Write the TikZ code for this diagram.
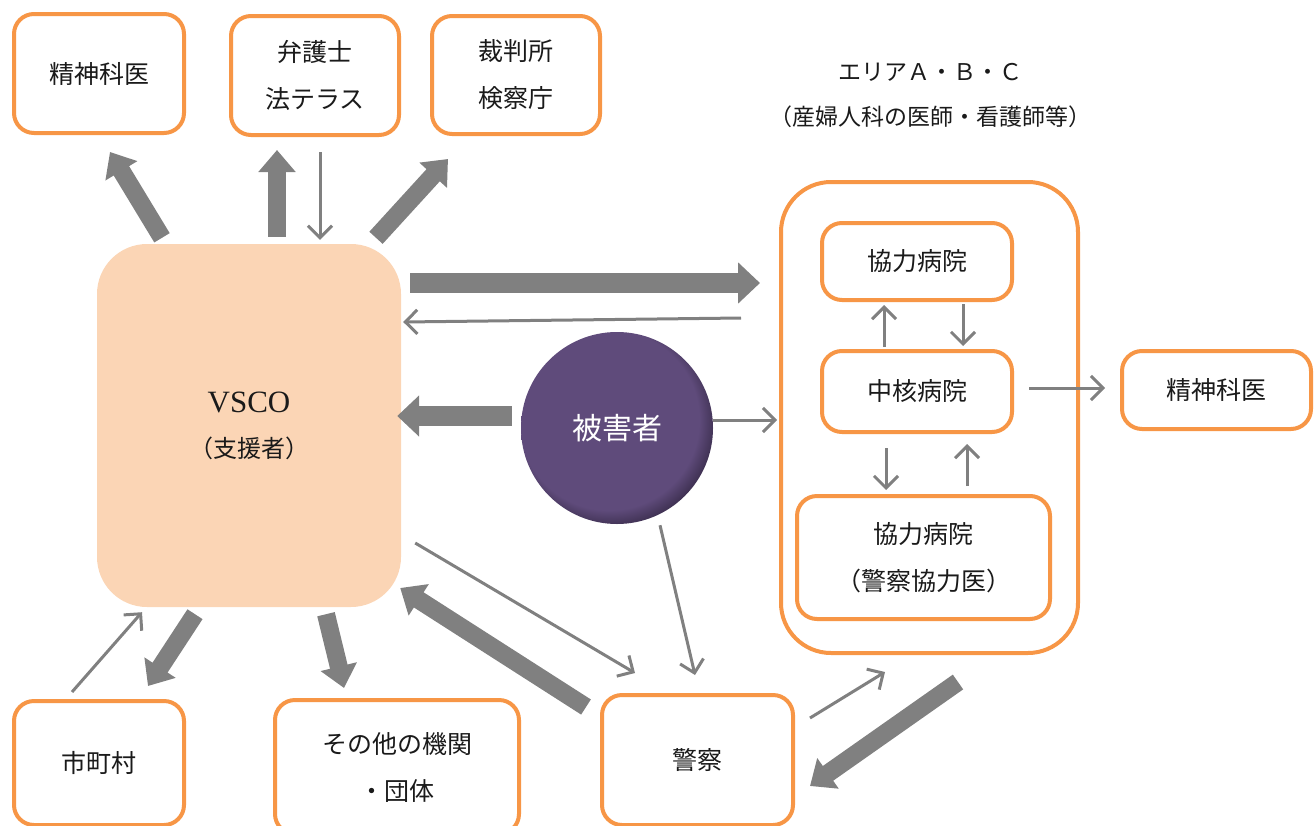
\documentclass[tikz,border=0pt]{standalone}
\usepackage{fontspec}
\newfontfamily\jp{Noto Sans CJK JP}
\newfontfamily\lserif{Liberation Serif}
\usetikzlibrary{arrows.meta}
\definecolor{borange}{HTML}{F79646}
\definecolor{peach}{HTML}{FBD5B5}
\definecolor{agray}{HTML}{808080}
\definecolor{vpurple}{HTML}{5F4B7B}
\definecolor{vdark}{HTML}{2A2038}
\definecolor{txt}{HTML}{1A1A1A}
\pgfdeclareradialshading{victimshade}{\pgfpoint{-4bp}{4bp}}{color(0bp)=(vpurple); color(23.5bp)=(vpurple); color(30bp)=(vdark); color(50bp)=(vdark)}
\tikzset{
  orgbox/.style={draw=borange, line width=4pt, rounded corners=20pt, fill=white,
    align=center, inner sep=0pt, text=txt, font=\jp\fontsize{25}{47}\selectfont},
  bigarrow/.style={draw=agray, line width=18pt, -{Triangle[width=36pt,length=22pt]}},
  hugearrow/.style={draw=agray, line width=20pt, -{Triangle[width=40pt,length=22pt]}},
  thinarrow/.style={draw=agray, line width=3pt, -{Straight Barb[length=12pt,width=24pt]}},
}
\begin{document}
\begin{tikzpicture}[x=1pt,y=-1pt]
\useasboundingbox (0,0) rectangle (1315,825);
% outer area
\node[orgbox, rounded corners=50pt, minimum width=297pt, minimum height=471pt] (area) at (929.5,417.5) {};
\node[align=center, text=txt, font=\jp\fontsize{23}{45}\selectfont] (title) at (930,95) {エリアＡ・Ｂ・Ｃ\\（産婦人科の医師・看護師等）};
% top boxes
\node[orgbox, minimum width=170pt, minimum height=119pt] (psyL) at (99,73.5) {精神科医};
\node[orgbox, minimum width=168pt, minimum height=119pt] (lawyer) at (315,75.5) {弁護士\\法テラス};
\node[orgbox, minimum width=168pt, minimum height=118pt] (court) at (516,75) {裁判所\\検察庁};
% VSCO
\node[fill=peach, rounded corners=50pt, minimum width=304pt, minimum height=363pt, align=center, text=txt, font=\fontsize{24}{45}\selectfont] (vsco) at (249,425.5)
  {{\lserif\fontsize{31}{45}\selectfont VSCO}\\{\jp\fontsize{24}{45}\selectfont （支援者）}};
% victim
\node[circle, minimum size=192pt, inner sep=0pt, shading=victimshade, text=white, font=\jp\fontsize{30}{36}\selectfont] (victim) at (617,428) {被害者};
% hospitals
\node[orgbox, minimum width=190pt, minimum height=77pt] (coopTop) at (917,261.5) {協力病院};
\node[orgbox, minimum width=190pt, minimum height=81pt] (core) at (917,391.5) {中核病院};
\node[orgbox, minimum width=253pt, minimum height=123pt] (coopPol) at (923.5,557.5) {協力病院\\（警察協力医）};
\node[orgbox, minimum width=189pt, minimum height=78pt] (psyR) at (1216.5,390) {精神科医};
% bottom boxes
\node[orgbox, minimum width=170pt, minimum height=124pt] (city) at (99,763) {市町村};
\node[orgbox, minimum width=244pt, minimum height=134pt] (other) at (397,767) {その他の機関\\・団体};
\node[orgbox, minimum width=191pt, minimum height=130pt] (police) at (697.5,760) {警察};
% arrows
\draw[bigarrow] ([shift={(-87,-6)}]vsco.north) -- ([shift={(11,17)}]psyL.south);
\draw[bigarrow] ([shift={(28,-7)}]vsco.north) -- ([shift={(-38,13)}]lawyer.south);
\draw[thinarrow] ([shift={(5,15)}]lawyer.south) -- ([shift={(71,-4)}]vsco.north);
\draw[bigarrow] ([shift={(127,-6)}]vsco.north) -- ([shift={(-68,23)}]court.south);
\draw[hugearrow] ([shift={(9,-142.5)}]vsco.east) -- ([shift={(-19,-134.5)}]area.west);
\draw[thinarrow] ([shift={(-38,-99.5)}]area.west) -- ([shift={(2,-103.5)}]vsco.east);
\draw[hugearrow] ([shift={(-9,-12)}]victim.west) -- ([shift={(-4,-9.5)}]vsco.east);
\draw[thinarrow] ([shift={(0,-8)}]victim.east) -- ([shift={(-2,2.5)}]area.west);
\draw[thinarrow] ([shift={(43,1)}]victim.south) -- ([shift={(-2.5,-18)}]police.north);
\draw[thinarrow] ([shift={(14,117.5)}]vsco.east) -- ([shift={(-62.5,-20)}]police.north);
\draw[bigarrow] ([shift={(-14,-53)}]police.west) -- ([shift={(-1,162.5)}]vsco.east);
\draw[bigarrow] ([shift={(-54,7)}]vsco.south) -- ([shift={(49,-13)}]city.north);
\draw[thinarrow] ([shift={(-27,-7)}]city.north) -- ([shift={(-107,5)}]vsco.south);
\draw[bigarrow] ([shift={(77,7)}]vsco.south) -- ([shift={(-53,-10)}]other.north);
\draw[thinarrow] ([shift={(15,-42)}]police.east) -- ([shift={(-44.5,17)}]area.south);
\draw[bigarrow] ([shift={(28.5,27)}]area.south) -- ([shift={(15,26)}]police.east);
\draw[thinarrow] ([shift={(15,-3.5)}]core.east) -- ([shift={(-15,-2)}]psyR.west);
\draw[thinarrow] ([shift={(-33,-2)}]core.north) -- ([shift={(-33,3)}]coopTop.south);
\draw[thinarrow] ([shift={(46,2)}]coopTop.south) -- ([shift={(46,-3)}]core.north);
\draw[thinarrow] ([shift={(-31,14)}]core.south) -- ([shift={(-37.5,-4)}]coopPol.north);
\draw[thinarrow] ([shift={(43.5,-8)}]coopPol.north) -- ([shift={(50,10)}]core.south);
\end{tikzpicture}
\end{document}
